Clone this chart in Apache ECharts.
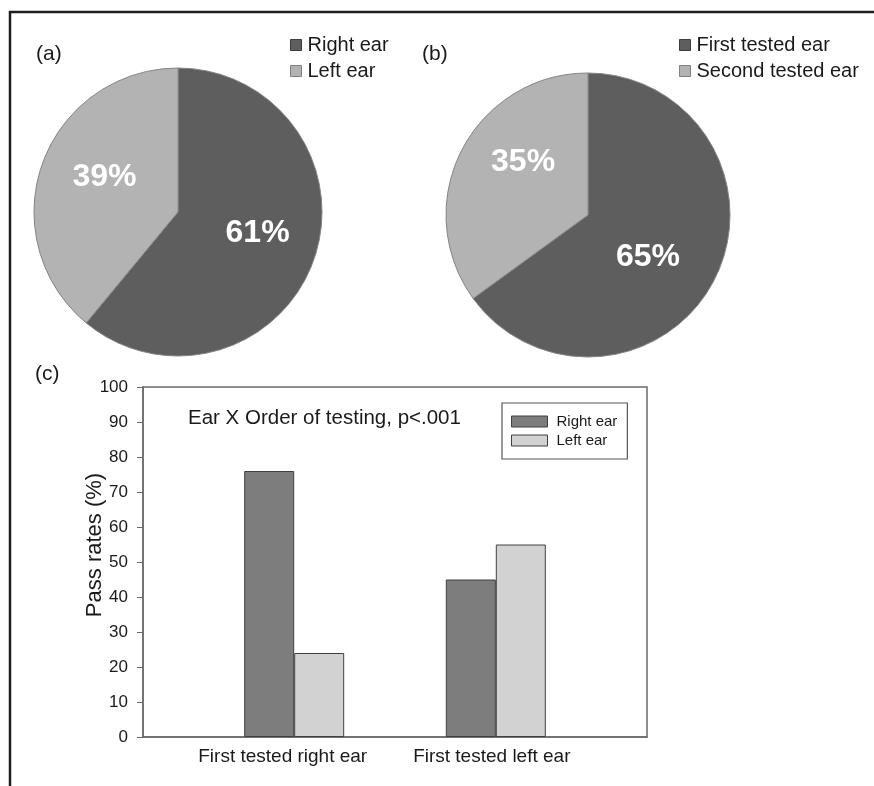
<!DOCTYPE html>
<html>
<head>
<meta charset="utf-8">
<script src="https://cdn.jsdelivr.net/npm/echarts@6/dist/echarts.min.js"></script>
<style>
html,body{margin:0;padding:0;background:#fff;}
#c{width:874px;height:786px;}
</style>
</head>
<body>
<div id="c"></div>
<script>
// ---- data ----
var pieANames = ['Right ear', 'Left ear'];
var pieAValues = [61, 39];
var pieBNames = ['First tested ear', 'Second tested ear'];
var pieBValues = [65, 35];
var barCategories = ['First tested right ear', 'First tested left ear'];
var barRightEar = [76, 45];
var barLeftEar = [24, 55];
var yTicks = [0, 10, 20, 30, 40, 50, 60, 70, 80, 90, 100];
var annotationText = 'Ear X Order of testing, p<.001';
var yAxisTitle = 'Pass rates (%)';

// ---- styling ----
var FONT = 'Arial, "Liberation Sans", Helvetica, sans-serif';
var PIE_DARK = '#5e5e5e', PIE_LIGHT = '#b3b3b3';
var BAR_DARK = '#7d7d7d', BAR_LIGHT = '#d2d2d2';

// padded category axis: groups sit at 30% and 70% of the plot width
var axisCats = ['', {value: barCategories[0], textStyle: {padding: [0, 23, 0, 0]}}, '',
                {value: barCategories[1], textStyle: {padding: [0, 8, 0, 0]}}, ''];
function pad(arr) { return [null, arr[0], null, arr[1], null]; }

var labelOffsetsA = [[9, -4], [-3, -9]];
var labelOffsetsB = [[-6, 9], [1, -19]];
function pieData(names, values, colors, offsets) {
  return names.map(function (n, i) {
    return {name: n, value: values[i], itemStyle: {color: colors[i]},
            label: {offset: offsets[i]}};
  });
}
var pieLabel = {
  show: true, position: 'inside', color: '#fff', fontFamily: FONT,
  fontWeight: 'bold', fontSize: 32,
  formatter: function (p) { return p.value + '%'; }
};

var chart = echarts.init(document.getElementById('c'), null, {renderer: 'canvas'});
var option = {
  backgroundColor: '#fff',
  animation: false,
  textStyle: {fontFamily: FONT},
  grid: {left: 143, right: 227, top: 387, bottom: 49, show: true,
         borderColor: '#6a6a6a', borderWidth: 1.5, backgroundColor: 'transparent'},
  xAxis: {
    type: 'category', data: axisCats,
    axisLine: {lineStyle: {color: '#6a6a6a', width: 1.5}},
    axisTick: {show: false},
    axisLabel: {interval: 0, color: '#1a1a1a', fontSize: 19, fontFamily: FONT, margin: 10}
  },
  yAxis: {
    type: 'value', min: yTicks[0], max: yTicks[yTicks.length - 1], interval: 10,
    splitLine: {show: false},
    axisLine: {show: true, lineStyle: {color: '#6a6a6a', width: 1.5}},
    axisTick: {show: true, length: 6, lineStyle: {color: '#6a6a6a'}},
    axisLabel: {color: '#1a1a1a', fontSize: 17, fontFamily: FONT, margin: 15}
  },
  legend: [
    {
      data: pieANames.map(function (n, i) {
        return {name: n, itemStyle: {color: i === 0 ? PIE_DARK : PIE_LIGHT,
          borderColor: i === 0 ? '#3c3c3c' : '#808080', borderWidth: 1}};
      }),
      orient: 'vertical', left: 290, top: 35, icon: 'rect', itemWidth: 11, itemHeight: 11,
      itemGap: 6, padding: 0, selectedMode: false,
      textStyle: {fontSize: 20, lineHeight: 20, color: '#1a1a1a', fontFamily: FONT, padding: [0, 0, 0, 1]}
    },
    {
      data: pieBNames.map(function (n, i) {
        return {name: n, itemStyle: {color: i === 0 ? PIE_DARK : PIE_LIGHT,
          borderColor: i === 0 ? '#3c3c3c' : '#808080', borderWidth: 1}};
      }),
      orient: 'vertical', left: 679, top: 35, icon: 'rect', itemWidth: 11, itemHeight: 11,
      itemGap: 6, padding: 0, selectedMode: false,
      textStyle: {fontSize: 20, lineHeight: 20, color: '#1a1a1a', fontFamily: FONT, padding: [0, 0, 0, 1]}
    },
    {
      data: pieANames.map(function (n, i) {
        return {name: n, itemStyle: {color: i === 0 ? BAR_DARK : BAR_LIGHT,
          borderColor: '#404040', borderWidth: 1}};
      }),
      orient: 'vertical', left: 502, top: 403, icon: 'rect', itemWidth: 36, itemHeight: 11,
      itemGap: 4, padding: [11, 10, 11, 9], selectedMode: false,
      borderColor: '#555', borderWidth: 1.2, backgroundColor: '#fff',
      textStyle: {fontSize: 15, lineHeight: 15, color: '#1a1a1a', fontFamily: FONT, padding: [0, 0, 0, 4]}
    }
  ],
  series: [
    {
      type: 'pie', name: 'pieA', center: [178, 212], radius: 144, startAngle: 90, clockwise: true,
      data: pieData(pieANames, pieAValues, [PIE_DARK, PIE_LIGHT], labelOffsetsA),
      label: pieLabel, labelLine: {show: false},
      itemStyle: {borderColor: '#858585', borderWidth: 1},
      emphasis: {disabled: true}, silent: true
    },
    {
      type: 'pie', name: 'pieB', center: [588, 215], radius: 142, startAngle: 90, clockwise: true,
      data: pieData(pieBNames, pieBValues, [PIE_DARK, PIE_LIGHT], labelOffsetsB),
      label: pieLabel, labelLine: {show: false},
      itemStyle: {borderColor: '#858585', borderWidth: 1},
      emphasis: {disabled: true}, silent: true
    },
    {
      type: 'bar', name: pieANames[0], data: pad(barRightEar), barWidth: 50, barGap: '0%',
      itemStyle: {color: BAR_DARK, borderColor: '#404040', borderWidth: 1}, silent: true
    },
    {
      type: 'bar', name: pieANames[1], data: pad(barLeftEar), barWidth: 50, barGap: '0%',
      itemStyle: {color: BAR_LIGHT, borderColor: '#404040', borderWidth: 1}, silent: true
    }
  ],
  graphic: [
    {type: 'line', shape: {x1: 9, y1: 12, x2: 874, y2: 12}, style: {stroke: '#1e1e1e', lineWidth: 2.5}, silent: true},
    {type: 'line', shape: {x1: 10, y1: 11, x2: 10, y2: 786}, style: {stroke: '#1e1e1e', lineWidth: 2.5}, silent: true},
    {type: 'text', left: 36, top: 44, style: {text: '(a)', fontSize: 21, fontFamily: FONT, fill: '#1a1a1a'}},
    {type: 'text', left: 422, top: 44, style: {text: '(b)', fontSize: 21, fontFamily: FONT, fill: '#1a1a1a'}},
    {type: 'text', left: 35, top: 364, style: {text: '(c)', fontSize: 21, fontFamily: FONT, fill: '#1a1a1a'}},
    {type: 'text', left: 188, top: 408, style: {text: annotationText, fontSize: 20.5, fontFamily: FONT, fill: '#1a1a1a'}},
    {type: 'text', x: 95, y: 545, rotation: Math.PI / 2,
     style: {text: yAxisTitle, fontSize: 22, fontFamily: FONT, fill: '#1a1a1a', align: 'center', verticalAlign: 'middle'}}
  ]
};
chart.setOption(option);
</script>
</body>
</html>
